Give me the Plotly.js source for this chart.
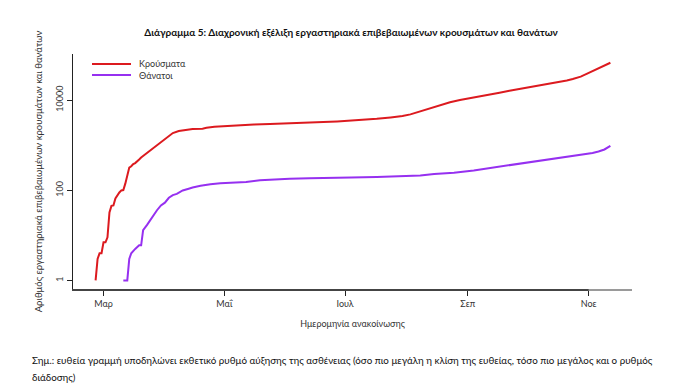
<!DOCTYPE html>
<html>
<head>
<meta charset="utf-8">
<script src="https://cdn.plot.ly/plotly-3.0.1.min.js"></script>
<style>html,body{margin:0;padding:0;background:#fff;}#chart{width:687px;height:388px;}</style>
</head>
<body>
<div id="chart"></div>
<script>
// Cumulative lab-confirmed cases (Κρούσματα), by announcement date
const casesDates = ["2020-02-26","2020-02-27","2020-02-28","2020-02-29","2020-03-01","2020-03-02","2020-03-03","2020-03-04","2020-03-05","2020-03-06","2020-03-07","2020-03-08","2020-03-09","2020-03-10","2020-03-11","2020-03-12","2020-03-13","2020-03-14","2020-03-15","2020-03-16","2020-03-17","2020-03-18","2020-03-19","2020-03-20","2020-03-22","2020-03-24","2020-03-26","2020-03-28","2020-03-30","2020-04-01","2020-04-03","2020-04-05","2020-04-08","2020-04-11","2020-04-15","2020-04-20","2020-04-22","2020-04-26","2020-05-02","2020-05-09","2020-05-16","2020-05-24","2020-05-31","2020-06-06","2020-06-13","2020-06-20","2020-06-27","2020-07-03","2020-07-10","2020-07-17","2020-07-24","2020-07-30","2020-08-03","2020-08-06","2020-08-09","2020-08-13","2020-08-18","2020-08-23","2020-08-28","2020-09-02","2020-09-07","2020-09-12","2020-09-17","2020-09-22","2020-09-27","2020-10-02","2020-10-07","2020-10-12","2020-10-17","2020-10-21","2020-10-24","2020-10-28","2020-10-31","2020-11-03","2020-11-05","2020-11-07","2020-11-10","2020-11-12"];
const casesValues = [1,3,4,4,7,7,9,32,45,46,66,78,89,99,101,140,200,318,340,380,400,430,480,530,620,720,850,1000,1180,1400,1630,1850,2050,2170,2270,2310,2420,2540,2650,2760,2860,2930,2980,3030,3130,3240,3350,3460,3620,3830,4100,4400,4800,5270,5800,6700,7740,8900,10000,10900,11800,13100,14500,16000,17500,19000,20500,22400,24600,27000,29300,33000,37800,43500,47500,52300,60000,67000];

// Cumulative deaths (Θάνατοι)
const deathsDates = ["2020-03-11","2020-03-13","2020-03-14","2020-03-15","2020-03-17","2020-03-19","2020-03-20","2020-03-21","2020-03-23","2020-03-24","2020-03-26","2020-03-28","2020-03-30","2020-04-01","2020-04-03","2020-04-05","2020-04-07","2020-04-10","2020-04-13","2020-04-15","2020-04-19","2020-04-24","2020-04-29","2020-05-04","2020-05-12","2020-05-19","2020-05-26","2020-06-03","2020-06-13","2020-06-24","2020-07-04","2020-07-17","2020-07-28","2020-08-08","2020-08-15","2020-08-25","2020-09-04","2020-09-10","2020-09-17","2020-09-27","2020-10-05","2020-10-11","2020-10-20","2020-10-28","2020-11-03","2020-11-06","2020-11-09","2020-11-12"];
const deathsValues = [1,1,3,4,5,6,6,13,17,20,26,36,46,53,68,78,83,99,108,115,125,136,142,147,152,166,173,180,185,192,192,196,204,212,228,245,275,300,330,395,440,470,540,610,670,720,800,960];

const seriesNames = ["Κρούσματα","Θάνατοι"];
const seriesColors = ["#dc1a1f","#9630f0"];

const tickDates = ["2020-03-01","2020-05-01","2020-07-01","2020-09-01","2020-11-01"];
const tickLabels = ["Μαρ","Μαΐ","Ιουλ","Σεπ","Νοε"];
const yTickVals = [1,100,10000];
const yTickLabels = ["1","100","10000"];

const xRange = ["2020-02-14 14:00","2020-11-22 22:00"];
const yRangeLog = [-0.19, 5.02];

const titleText = "Διάγραμμα 5: Διαχρονική εξέλιξη εργαστηριακά επιβεβαιωμένων κρουσμάτων και θανάτων";
const xTitle = "Ημερομηνία ανακοίνωσης";
const yTitle = "Αριθμός εργαστηριακά επιβεβαιωμένων κρουσμάτων και θανάτων";
const note1 = "Σημ.: ευθεία γραμμή υποδηλώνει εκθετικό ρυθμό αύξησης της ασθένειας (όσο πιο μεγάλη η κλίση της ευθείας, τόσο πιο μεγάλος και ο ρυθμός";
const note2 = "διάδοσης)";

const FONT = "Lato, 'Open Sans', sans-serif";

// plot area geometry (pixels) used to place paper-referenced decorations
const M = {l: 73, r: 55, t: 54, b: 99};
const PW = 687 - M.l - M.r, PH = 388 - M.t - M.b;
const px2x = p => (p - M.l) / PW;
const py2y = p => (388 - M.b - p) / PH;

const traces = [
  {x: casesDates, y: casesValues, name: seriesNames[0], type: "scatter", mode: "lines",
   line: {color: seriesColors[0], width: 2}},
  {x: deathsDates, y: deathsValues, name: seriesNames[1], type: "scatter", mode: "lines",
   line: {color: seriesColors[1], width: 2}}
];

// manual legend (compact, like the reference)
const legendRowsPx = [64, 75];
const legendShapes = seriesNames.map((n, i) => ({
  type: "line", xref: "paper", yref: "paper",
  x0: px2x(92), x1: px2x(131), y0: py2y(legendRowsPx[i]), y1: py2y(legendRowsPx[i]),
  line: {color: seriesColors[i], width: 2}
}));
const legendLabels = seriesNames.map((n, i) => ({
  text: n, xref: "paper", yref: "paper", x: px2x(137), y: py2y(legendRowsPx[i]),
  xanchor: "left", yanchor: "middle", showarrow: false,
  font: {family: FONT, size: 9, color: "#333"}
}));

const layout = {
  width: 687, height: 388,
  margin: {l: M.l, r: M.r, t: M.t, b: M.b, pad: 0},
  paper_bgcolor: "#ffffff", plot_bgcolor: "#ffffff",
  font: {family: FONT, size: 9, color: "#333"},
  showlegend: false,
  title: {text: "<b>" + titleText + "</b>", x: 0.511, xanchor: "center", y: 1 - 32/388, yanchor: "middle",
          font: {family: FONT, size: 10, color: "#111"}},
  xaxis: {
    type: "date", range: xRange, tickvals: tickDates, ticktext: tickLabels,
    ticks: "outside", ticklen: 5, tickwidth: 1, tickcolor: "#222",
    showline: true, linecolor: "#444", linewidth: 2, mirror: false,
    showgrid: false, zeroline: false,
    tickfont: {family: FONT, size: 9, color: "#333"},
    title: {text: xTitle, font: {family: FONT, size: 9, color: "#333"}, standoff: 13}
  },
  yaxis: {
    type: "log", range: yRangeLog, tickvals: yTickVals, ticktext: yTickLabels, tickangle: -90,
    ticks: "outside", ticklen: 5, tickwidth: 1, tickcolor: "#222",
    showline: true, linecolor: "#222", linewidth: 1,
    showgrid: false, zeroline: false,
    tickfont: {family: FONT, size: 9, color: "#333"},
    title: {text: yTitle, font: {family: FONT, size: 9.5, color: "#333"}, standoff: 10}
  },
  shapes: legendShapes.concat([
    {type: "line", xref: "x", yref: "paper", x0: tickDates[tickDates.length-1], x1: xRange[1], y0: -1/PH, y1: -1/PH,
     layer: "above", line: {color: "#9a9a9a", width: 2}}
  ]),
  annotations: legendLabels.concat([
    {text: note1, xref: "paper", yref: "paper", x: px2x(30), y: py2y(360), xanchor: "left", yanchor: "middle",
     showarrow: false, font: {family: FONT, size: 9.8, color: "#111"}},
    {text: note2, xref: "paper", yref: "paper", x: px2x(30), y: py2y(377), xanchor: "left", yanchor: "middle",
     showarrow: false, font: {family: FONT, size: 9.8, color: "#111"}}
  ])
};

Plotly.newPlot("chart", traces, layout, {displayModeBar: false, staticPlot: true});
</script>
</body>
</html>
